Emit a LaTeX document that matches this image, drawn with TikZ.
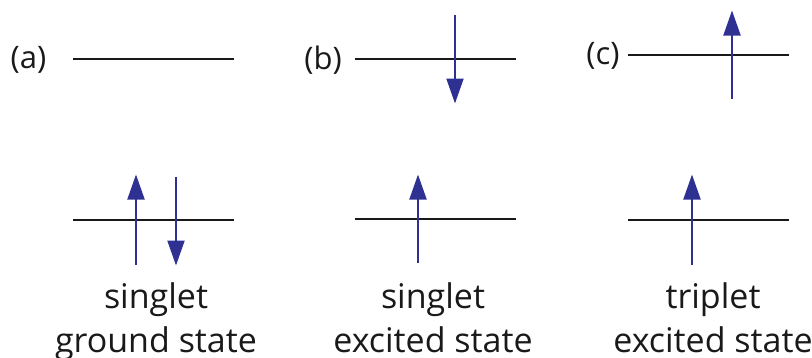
\documentclass[tikz,border=0pt]{standalone}
\usepackage{fontspec}
\setmainfont{Open Sans}
\usetikzlibrary{arrows.meta}
\definecolor{spinblue}{RGB}{46,49,146}
\begin{document}
\begin{tikzpicture}[x=1pt,y=-1pt,
  level/.style={draw=black!90,line width=2.6pt},
  spin/.style={draw=spinblue,line width=2pt,-{Triangle[length=25pt,width=17pt]},shorten >=-0.5pt},
  txt/.style={font=\fontsize{34}{40}\selectfont,text=black!90,inner sep=0pt},
  lbl/.style={font=\fontsize{31}{36}\selectfont,text=black!90,inner sep=0pt}]
\useasboundingbox (0,0) rectangle (812,357);
% panel (a)
\node[lbl,anchor=center] (la) at (28.5,60) {(a)};
\coordinate (a1l) at (73,59); \coordinate (a1r) at (234,59);
\coordinate (a0l) at (73,220); \coordinate (a0r) at (234,220);
\draw[level] (a1l) -- (a1r);
\draw[level] (a0l) -- (a0r);
\coordinate (aus) at (136,265); \coordinate (aut) at (136,175);
\coordinate (ads) at (176,177); \coordinate (adt) at (176,265);
\draw[spin] (aus) -- (aut);
\draw[spin] (ads) -- (adt);
\node[txt,anchor=base] (ta1) at (156,308) {singlet};
\node[txt,anchor=base] (ta2) at (156,352) {ground state};
% panel (b)
\node[lbl,anchor=center] (lb) at (323,60) {(b)};
\coordinate (b1l) at (355,59); \coordinate (b1r) at (516,59);
\coordinate (b0l) at (355,219); \coordinate (b0r) at (516,219);
\draw[level] (b1l) -- (b1r);
\draw[level] (b0l) -- (b0r);
\coordinate (bds) at (455,15); \coordinate (bdt) at (455,103);
\coordinate (bus) at (418,263); \coordinate (but) at (418,175);
\draw[spin] (bds) -- (bdt);
\draw[spin] (bus) -- (but);
\node[txt,anchor=base] (tb1) at (433,308) {singlet};
\node[txt,anchor=base] (tb2) at (433,352) {excited state};
% panel (c)
\node[lbl,anchor=center] (lc) at (603,56) {(c)};
\coordinate (c1l) at (628,55); \coordinate (c1r) at (789,55);
\coordinate (c0l) at (628,220); \coordinate (c0r) at (789,220);
\draw[level] (c1l) -- (c1r);
\draw[level] (c0l) -- (c0r);
\coordinate (cus) at (732,99); \coordinate (cut) at (732,11);
\coordinate (c2s) at (692,265); \coordinate (c2t) at (692,175);
\draw[spin] (cus) -- (cut);
\draw[spin] (c2s) -- (c2t);
\node[txt,anchor=base] (tc1) at (713,308) {triplet};
\node[txt,anchor=base] (tc2) at (713,352) {excited state};
\end{tikzpicture}
\end{document}
